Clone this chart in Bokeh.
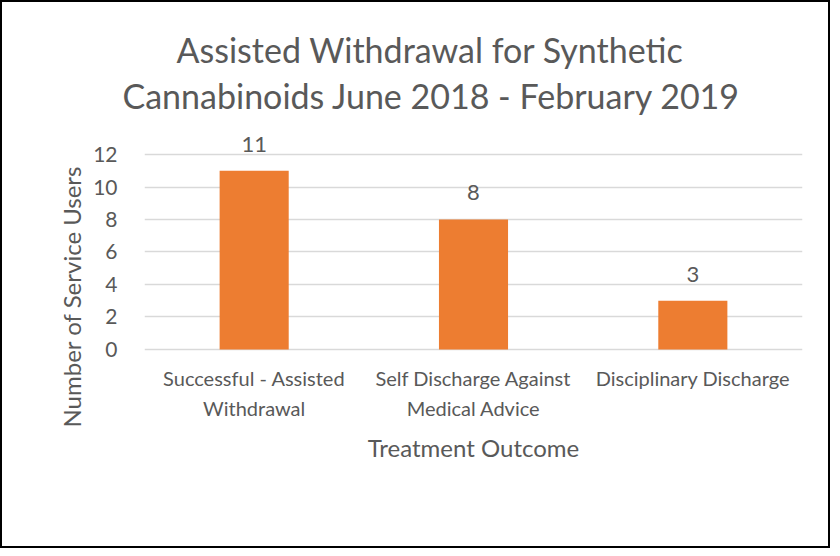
from bokeh.plotting import figure
from bokeh.models import ColumnDataSource, LabelSet, Title, FactorRange, Range1d, FixedTicker
from bokeh.core.properties import value
from bokeh.embed import file_html
from bokeh.resources import INLINE

categories = ["Successful - Assisted Withdrawal", "Self Discharge Against Medical Advice", "Disciplinary Discharge"]
label_line1 = ["Successful - Assisted", "Self Discharge Against", "Disciplinary Discharge"]
label_line2 = ["Withdrawal", "Medical Advice", ""]
counts = [11, 8, 3]
y_ticks = [0, 2, 4, 6, 8, 10, 12]

FONT = "Lato"
TXT = "#595959"

src = ColumnDataSource(dict(cat=categories, val=counts, lab=[str(v) for v in counts],
                            l1=label_line1, l2=label_line2, zero=[0] * len(counts)))

# frame is extended below zero so that the category labels are drawn inside it
p = figure(x_range=FactorRange(*categories), y_range=Range1d(-5.05, 13.54),
           width=830, height=548, output_backend="svg", toolbar_location=None,
           min_border_left=142, min_border_right=30, min_border_bottom=119, min_border_top=127)
p.styles = {"border": "2px solid black", "box-sizing": "border-box"}

p.vbar(x="cat", top="val", width=0.315, source=src, color="#ED7D31", line_color=None)

p.add_layout(LabelSet(x="cat", y="val", text="lab", source=src, text_align="center",
                      text_baseline="bottom", y_offset=19, text_font=value(FONT),
                      text_font_size="22px", text_color=TXT))

for txt, off in (("l1", -29), ("l2", -59)):
    p.add_layout(LabelSet(x="cat", y="zero", text=txt, source=src, text_align="center",
                          text_baseline="middle", y_offset=off, text_font=value(FONT),
                          text_font_size="20px", text_color=TXT))

p.add_layout(Title(text="Cannabinoids June 2018 - February 2019", align="left", offset=-22,
                   text_font=FONT, text_font_size="34px", text_font_style="normal",
                   text_color=TXT, standoff=28), "above")
p.add_layout(Title(text="Assisted Withdrawal for Synthetic", align="left", offset=32,
                   text_font=FONT, text_font_size="34px", text_font_style="normal",
                   text_color=TXT, standoff=-22), "above")
p.add_layout(Title(text="Treatment Outcome", align="center", text_font=FONT,
                   text_font_size="24px", text_font_style="normal", text_color=TXT,
                   standoff=-2), "below")
p.add_layout(Title(text="Number of Service Users", align="left", offset=4, text_font=FONT,
                   text_font_size="24px", text_font_style="normal", text_color=TXT,
                   standoff=10), "left")

p.xaxis.visible = False
p.yaxis.ticker = FixedTicker(ticks=y_ticks)
p.yaxis.major_label_text_font = FONT
p.yaxis.major_label_text_font_size = "21px"
p.yaxis.major_label_text_color = TXT
p.yaxis.major_tick_line_color = None
p.yaxis.minor_tick_line_color = None
p.yaxis.axis_line_color = None
p.yaxis.major_label_standoff = 21

p.xgrid.grid_line_color = None
p.ygrid.grid_line_color = "#D9D9D9"
p.ygrid.grid_line_width = 1.3
p.outline_line_color = None
p.background_fill_color = "white"
p.border_fill_color = "white"

open("out.html", "w").write(file_html(p, INLINE))
